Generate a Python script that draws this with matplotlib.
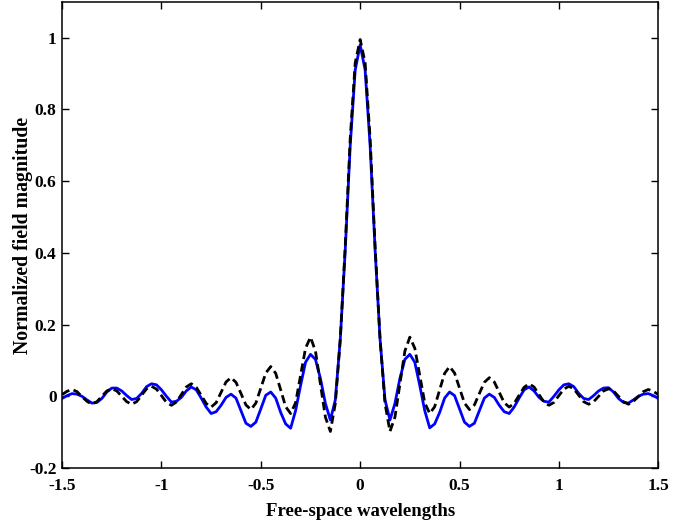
import numpy as np
import matplotlib.pyplot as plt

plt.rcParams['font.family'] = ['Liberation Serif', 'DejaVu Serif']
plt.rcParams['font.weight'] = 'bold'

# sample positions (free-space wavelengths), both curves share them
x_pos = np.round(np.arange(-1.5, 1.5001, 0.025), 3)

# Blue solid curve
y_blue = [-0.006, 0.002, 0.0075, 0.006, 0.0, -0.01, -0.019, -0.017, -0.006, 0.012,
          0.023, 0.023, 0.015, 0.002, -0.009, -0.006, 0.008, 0.027, 0.035, 0.032,
          0.018, 0.0, -0.016, -0.014, -0.003, 0.015, 0.026, 0.018, -0.005, -0.03,
          -0.048, -0.043, -0.025, -0.003, 0.006, -0.005, -0.04, -0.075, -0.084, -0.072,
          -0.035, 0.003, 0.012, -0.005, -0.045, -0.077, -0.089, -0.04, 0.03, 0.095,
          0.117, 0.103, 0.05, -0.02, -0.066, -0.01, 0.16, 0.41, 0.70, 0.91,
          0.98,
          0.91, 0.70, 0.41, 0.16, -0.01, -0.066, -0.02, 0.05, 0.103, 0.117,
          0.095, 0.03, -0.04, -0.088, -0.077, -0.045, -0.005, 0.012, 0.002, -0.035,
          -0.072, -0.084, -0.075, -0.04, -0.005, 0.006, -0.003, -0.025, -0.043, -0.048,
          -0.03, -0.005, 0.018, 0.026, 0.015, -0.003, -0.014, -0.016, 0.0, 0.018,
          0.032, 0.035, 0.027, 0.008, -0.006, -0.009, 0.002, 0.015, 0.023, 0.024,
          0.012, -0.006, -0.017, -0.019, -0.01, 0.0, 0.006, 0.0075, 0.002, -0.006]

# Black dashed curve
y_black = [0.005, 0.014, 0.019, 0.013, -0.001, -0.014, -0.022, -0.015, 0.0, 0.015,
           0.021, 0.015, 0.0, -0.015, -0.022, -0.015, 0.003, 0.021, 0.028, 0.020,
           0.002, -0.017, -0.025, -0.016, 0.005, 0.026, 0.035, 0.025, 0.003, -0.020,
           -0.030, -0.018, 0.011, 0.040, 0.052, 0.039, 0.008, -0.024, -0.037, -0.019,
           0.023, 0.065, 0.083, 0.064, 0.018, -0.029, -0.048, -0.018, 0.058, 0.134,
           0.165, 0.126, 0.034, -0.058, -0.098, -0.02, 0.16, 0.42, 0.72, 0.93,
           0.995,
           0.93, 0.72, 0.42, 0.16, -0.02, -0.098, -0.058, 0.034, 0.126, 0.165,
           0.134, 0.058, -0.018, -0.048, -0.029, 0.018, 0.064, 0.083, 0.065, 0.023,
           -0.019, -0.037, -0.024, 0.008, 0.039, 0.052, 0.040, 0.011, -0.018, -0.030,
           -0.020, 0.003, 0.025, 0.035, 0.026, 0.005, -0.016, -0.025, -0.017, 0.002,
           0.020, 0.028, 0.021, 0.003, -0.015, -0.022, -0.015, 0.0, 0.015, 0.021,
           0.015, 0.0, -0.015, -0.022, -0.014, -0.001, 0.013, 0.019, 0.014, 0.005]

x_ticks = [-1.5, -1, -0.5, 0, 0.5, 1, 1.5]
x_labels = ['-1.5', '-1', '-0.5', '0', '0.5', '1', '1.5']
y_ticks = [-0.2, 0, 0.2, 0.4, 0.6, 0.8, 1]
y_labels = ['-0.2', '0', '0.2', '0.4', '0.6', '0.8', '1']

fig = plt.figure(figsize=(6.98, 5.22), dpi=100)
ax = fig.add_axes([0.089, 0.1034, 0.854, 0.893])

ax.plot(x_pos, y_blue, color='#0000ff', lw=2.0)
ax.plot(x_pos, y_black, color='black', lw=2.0, dashes=(3, 1.6))

ax.set_xlim(-1.5, 1.5)
ax.set_ylim(-0.2, 1.1)
ax.set_xticks(x_ticks)
ax.set_xticklabels(x_labels)
ax.set_yticks(y_ticks)
ax.set_yticklabels(y_labels)
ax.tick_params(direction='in', length=5, width=1, labelsize=12.5,
               top=True, right=True)
ax.tick_params(axis='x', pad=7)
ax.tick_params(axis='y', pad=4)
for s in ax.spines.values():
    s.set_linewidth(1.1)

ax.set_xlabel('Free-space wavelengths', fontsize=13.5, fontweight='bold')
ax.set_ylabel('Normalized field magnitude', fontsize=14.3, fontweight='bold')
ax.xaxis.set_label_coords(0.5, -0.074)
ax.yaxis.set_label_coords(-0.049, 0.5)

fig.savefig('out.png', dpi=100)
